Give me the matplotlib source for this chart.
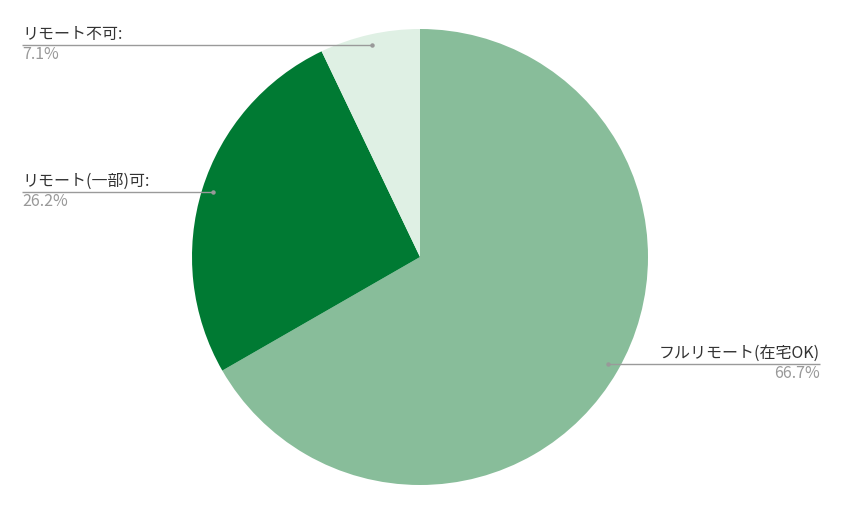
import matplotlib
matplotlib.use("Agg")
import matplotlib.pyplot as plt

plt.rcParams['font.family'] = ['Noto Sans CJK JP', 'DejaVu Sans']

labels = ["フルリモート(在宅OK)", "リモート(一部)可", "リモート不可"]
values = [66.7, 26.2, 7.1]
pct_labels = ["66.7%", "26.2%", "7.1%"]
colors = ["#88BD9A", "#007A33", "#DFF0E4"]

W, H = 846, 508
fig = plt.figure(figsize=(W / 100, H / 100), dpi=100)
ax = fig.add_axes([0, 0, 1, 1])

cx, cy, r = 420, H - 257, 228
ax.pie(values, colors=colors, startangle=90, counterclock=False,
       center=(cx, cy), radius=r, frame=True,
       wedgeprops=dict(linewidth=0))
ax.set_xlim(0, W)
ax.set_ylim(0, H)
ax.set_aspect('equal')
ax.axis('off')

line_c = "#9a9a9a"
lab_c = "#333333"
pct_c = "#999999"
fs = 11.5

# (line x0, line x1, y, dot x, align, text x)
specs = [
    (608, 820, H - 364, 608, 'right', 820),
    (22, 213, H - 192, 213, 'left', 22),
    (22, 372, H - 45, 372, 'left', 22),
]
for i, (x0, x1, y, dx, ha, tx) in enumerate(specs):
    ax.plot([x0, x1], [y, y], color=line_c, lw=1, solid_capstyle='butt')
    ax.plot([dx], [y], 'o', color="#999999", ms=2.2)
    name = labels[i] + ("" if i == 0 else ":")
    ax.text(tx, y + 2, name, ha=ha, va='bottom', fontsize=fs, color=lab_c)
    ax.text(tx, y - 1, pct_labels[i], ha=ha, va='top', fontsize=fs, color=pct_c)

fig.savefig("out.png", dpi=100)
